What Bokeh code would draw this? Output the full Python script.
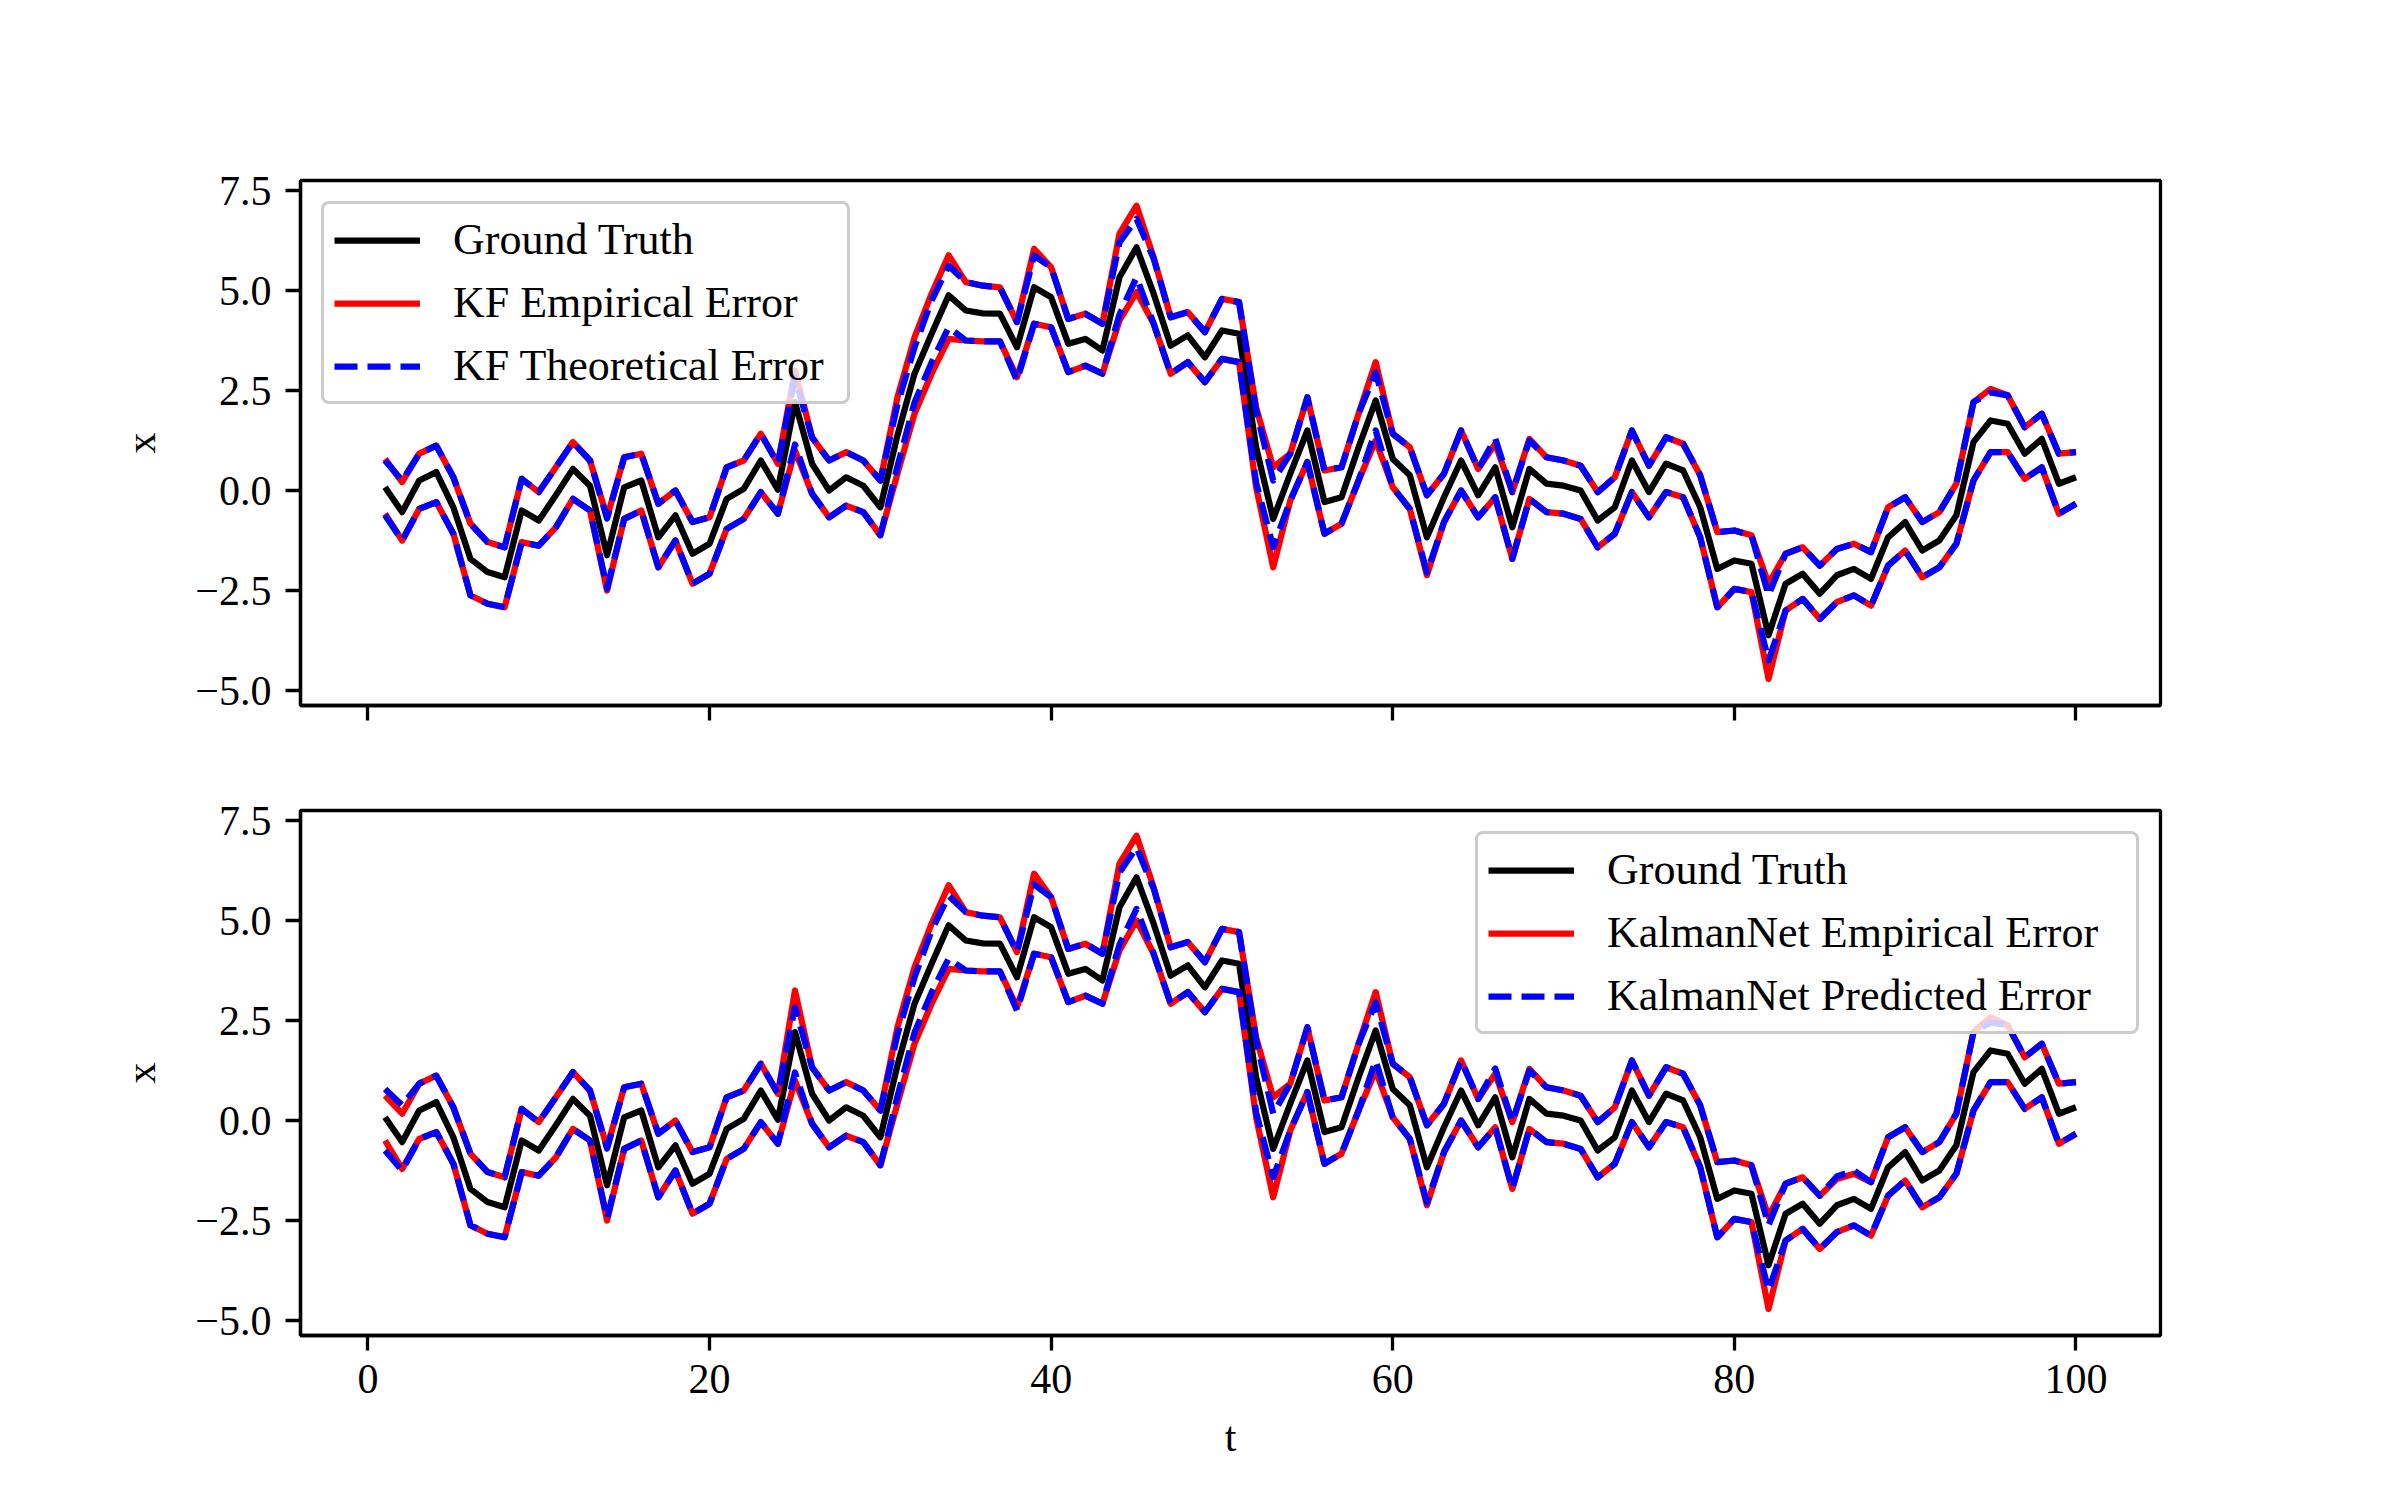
from bokeh.plotting import figure
from bokeh.models import Range1d, FixedTicker, Legend, LegendItem
from bokeh.layouts import column
from bokeh.embed import file_html
from bokeh.resources import INLINE

# ---------------- data ----------------
t = list(range(1, 101))

truth = [0.08, -0.54, 0.25, 0.46, -0.42, -1.71, -2.04, -2.17, -0.50, -0.75,
         -0.12, 0.54, 0.12, -1.62, 0.08, 0.25, -1.17, -0.62, -1.58, -1.33,
         -0.21, 0.04, 0.75, 0.02, 2.21, 0.67, 0.00, 0.33, 0.12, -0.42,
         1.38, 2.92, 3.92, 4.88, 4.50, 4.43, 4.42, 3.58, 5.08, 4.83,
         3.67, 3.79, 3.50, 5.33, 6.08, 4.92, 3.62, 3.88, 3.33, 4.00,
         3.92, 1.08, -0.71, 0.42, 1.50, -0.29, -0.17, 1.08, 2.25, 0.79,
         0.38, -1.17, -0.17, 0.75, -0.12, 0.58, -0.92, 0.54, 0.17, 0.12,
         0.00, -0.75, -0.42, 0.75, -0.04, 0.67, 0.50, -0.42, -1.96, -1.75,
         -1.83, -3.62, -2.33, -2.08, -2.58, -2.12, -1.96, -2.21, -1.17, -0.79,
         -1.50, -1.25, -0.62, 1.21, 1.75, 1.67, 0.92, 1.29, 0.17, 0.33]

kf_emp_hi = [0.79, 0.21, 0.92, 1.12, 0.33, -0.83, -1.29, -1.42, 0.29, -0.04,
             0.58, 1.21, 0.75, -0.67, 0.83, 0.92, -0.33, 0.00, -0.79, -0.67,
             0.58, 0.75, 1.42, 0.67, 3.00, 1.33, 0.75, 0.96, 0.75, 0.25,
             2.33, 3.83, 4.92, 5.88, 5.21, 5.12, 5.08, 4.21, 6.04, 5.58,
             4.29, 4.42, 4.17, 6.42, 7.12, 5.83, 4.33, 4.46, 3.96, 4.79,
             4.71, 2.08, 0.58, 0.92, 2.33, 0.50, 0.58, 1.92, 3.21, 1.42,
             1.08, -0.12, 0.42, 1.50, 0.54, 1.17, -0.04, 1.29, 0.83, 0.75,
             0.62, -0.04, 0.33, 1.50, 0.62, 1.33, 1.17, 0.38, -1.04, -1.00,
             -1.12, -2.33, -1.58, -1.42, -1.88, -1.46, -1.33, -1.54, -0.42, -0.17,
             -0.79, -0.54, 0.17, 2.21, 2.54, 2.38, 1.58, 1.92, 0.92, 0.96]

kf_emp_lo = [-0.58, -1.25, -0.46, -0.29, -1.08, -2.62, -2.83, -2.92, -1.29, -1.38,
             -0.92, -0.21, -0.50, -2.50, -0.71, -0.50, -1.92, -1.25, -2.33, -2.08,
             -0.96, -0.71, -0.04, -0.58, 1.00, -0.08, -0.67, -0.38, -0.54, -1.12,
             0.42, 1.92, 2.92, 3.79, 3.75, 3.73, 3.73, 2.83, 4.17, 4.08,
             2.96, 3.12, 2.92, 4.25, 4.96, 4.17, 2.92, 3.21, 2.71, 3.29,
             3.21, 0.08, -1.92, -0.25, 0.71, -1.08, -0.83, 0.25, 1.25, 0.08,
             -0.46, -2.12, -0.79, 0.00, -0.67, -0.17, -1.71, -0.21, -0.54, -0.58,
             -0.71, -1.42, -1.08, -0.04, -0.67, -0.04, -0.17, -1.17, -2.92, -2.46,
             -2.54, -4.71, -3.00, -2.71, -3.21, -2.79, -2.62, -2.88, -1.88, -1.50,
             -2.17, -1.92, -1.33, 0.25, 0.96, 0.96, 0.29, 0.58, -0.58, -0.33]

kf_th_hi = [0.75, 0.25, 0.92, 1.12, 0.33, -0.83, -1.29, -1.42, 0.29, -0.04,
            0.58, 1.21, 0.75, -0.70, 0.83, 0.92, -0.33, 0.00, -0.79, -0.67,
            0.58, 0.75, 1.42, 0.67, 2.83, 1.33, 0.75, 0.96, 0.75, 0.25,
            2.15, 3.58, 4.75, 5.62, 5.21, 5.12, 5.08, 4.21, 5.87, 5.58,
            4.29, 4.42, 4.17, 6.20, 6.79, 5.80, 4.33, 4.46, 3.96, 4.79,
            4.71, 2.00, 0.25, 0.92, 2.33, 0.50, 0.58, 1.92, 2.95, 1.42,
            1.08, -0.12, 0.42, 1.50, 0.54, 1.30, -0.04, 1.25, 0.83, 0.75,
            0.62, -0.04, 0.33, 1.50, 0.62, 1.33, 1.17, 0.38, -1.04, -1.00,
            -1.12, -2.62, -1.58, -1.42, -1.88, -1.46, -1.33, -1.54, -0.42, -0.17,
            -0.79, -0.54, 0.17, 2.21, 2.45, 2.38, 1.58, 1.92, 0.92, 0.96]

kf_th_lo = [-0.62, -1.25, -0.46, -0.29, -1.08, -2.62, -2.83, -2.92, -1.29, -1.38,
            -0.92, -0.21, -0.50, -2.45, -0.71, -0.50, -1.92, -1.25, -2.33, -2.08,
            -0.96, -0.71, -0.04, -0.58, 1.15, -0.08, -0.67, -0.38, -0.54, -1.12,
            0.60, 2.20, 3.20, 4.08, 3.75, 3.73, 3.73, 2.75, 4.17, 4.08,
            2.96, 3.12, 2.92, 4.40, 5.33, 4.17, 2.92, 3.21, 2.71, 3.29,
            3.21, 0.20, -1.42, -0.25, 0.71, -1.08, -0.83, 0.25, 1.50, 0.08,
            -0.46, -2.05, -0.79, 0.00, -0.67, -0.17, -1.71, -0.21, -0.54, -0.58,
            -0.71, -1.42, -1.08, -0.04, -0.67, -0.04, -0.17, -1.17, -2.92, -2.46,
            -2.54, -4.25, -3.00, -2.71, -3.21, -2.79, -2.62, -2.88, -1.88, -1.50,
            -2.17, -1.92, -1.33, 0.25, 0.96, 0.96, 0.29, 0.58, -0.58, -0.33]

kn_emp_hi = [0.62, 0.17, 0.92, 1.12, 0.33, -0.83, -1.29, -1.42, 0.29, -0.04,
             0.58, 1.21, 0.75, -0.67, 0.83, 0.92, -0.33, 0.00, -0.79, -0.67,
             0.58, 0.75, 1.42, 0.67, 3.25, 1.33, 0.75, 0.96, 0.75, 0.25,
             2.33, 3.83, 4.92, 5.88, 5.21, 5.12, 5.08, 4.21, 6.17, 5.58,
             4.29, 4.42, 4.17, 6.42, 7.12, 5.83, 4.33, 4.46, 3.96, 4.79,
             4.71, 2.08, 0.58, 0.92, 2.33, 0.50, 0.58, 1.92, 3.21, 1.42,
             1.08, -0.12, 0.42, 1.50, 0.54, 1.17, -0.04, 1.29, 0.83, 0.75,
             0.62, -0.04, 0.33, 1.50, 0.62, 1.33, 1.17, 0.38, -1.04, -1.00,
             -1.12, -2.40, -1.58, -1.42, -1.88, -1.46, -1.33, -1.54, -0.42, -0.17,
             -0.79, -0.54, 0.17, 2.21, 2.58, 2.38, 1.58, 1.92, 0.92, 0.96]

kn_emp_lo = [-0.50, -1.21, -0.46, -0.29, -1.08, -2.62, -2.83, -2.92, -1.29, -1.38,
             -0.92, -0.21, -0.50, -2.50, -0.71, -0.50, -1.92, -1.25, -2.33, -2.08,
             -0.96, -0.71, -0.04, -0.58, 1.00, -0.08, -0.67, -0.38, -0.54, -1.12,
             0.42, 1.92, 2.92, 3.79, 3.75, 3.73, 3.73, 2.83, 4.17, 4.08,
             2.96, 3.12, 2.92, 4.25, 5.00, 4.17, 2.92, 3.21, 2.71, 3.29,
             3.21, 0.08, -1.92, -0.25, 0.71, -1.08, -0.83, 0.25, 1.25, 0.08,
             -0.46, -2.12, -0.79, 0.00, -0.67, -0.17, -1.71, -0.21, -0.54, -0.58,
             -0.71, -1.42, -1.08, -0.04, -0.67, -0.04, -0.17, -1.17, -2.92, -2.46,
             -2.54, -4.71, -3.00, -2.71, -3.21, -2.79, -2.62, -2.88, -1.88, -1.50,
             -2.17, -1.92, -1.33, 0.25, 0.96, 0.96, 0.29, 0.58, -0.58, -0.33]

kn_pr_hi = [0.79, 0.38, 0.92, 1.12, 0.33, -0.83, -1.29, -1.42, 0.29, -0.04,
            0.58, 1.21, 0.75, -0.70, 0.83, 0.92, -0.33, 0.00, -0.79, -0.67,
            0.58, 0.75, 1.42, 0.67, 2.83, 1.33, 0.75, 0.96, 0.75, 0.25,
            2.15, 3.58, 4.75, 5.62, 5.21, 5.12, 5.08, 4.21, 5.90, 5.58,
            4.29, 4.42, 4.17, 6.20, 6.83, 5.80, 4.33, 4.46, 3.96, 4.79,
            4.71, 2.00, 0.17, 0.92, 2.33, 0.50, 0.58, 1.92, 2.95, 1.42,
            1.08, -0.12, 0.42, 1.50, 0.54, 1.30, -0.04, 1.25, 0.83, 0.75,
            0.62, -0.04, 0.33, 1.50, 0.62, 1.33, 1.17, 0.38, -1.04, -1.00,
            -1.12, -2.62, -1.58, -1.42, -1.88, -1.40, -1.25, -1.54, -0.42, -0.17,
            -0.79, -0.54, 0.17, 2.21, 2.45, 2.38, 1.58, 1.92, 0.92, 0.96]

kn_pr_lo = [-0.75, -1.25, -0.46, -0.29, -1.08, -2.62, -2.83, -2.92, -1.29, -1.38,
            -0.92, -0.21, -0.50, -2.45, -0.71, -0.50, -1.92, -1.25, -2.33, -2.08,
            -0.96, -0.71, -0.04, -0.58, 1.20, -0.08, -0.67, -0.38, -0.54, -1.12,
            0.60, 2.20, 3.20, 4.05, 3.75, 3.73, 3.73, 2.75, 4.17, 4.08,
            2.96, 3.12, 2.92, 4.40, 5.29, 4.17, 2.92, 3.21, 2.71, 3.29,
            3.21, 0.20, -1.42, -0.25, 0.71, -1.08, -0.83, 0.25, 1.50, 0.08,
            -0.46, -2.05, -0.79, 0.00, -0.67, -0.17, -1.71, -0.21, -0.54, -0.58,
            -0.71, -1.42, -1.08, -0.04, -0.67, -0.04, -0.17, -1.17, -2.92, -2.46,
            -2.54, -4.25, -3.00, -2.71, -3.21, -2.79, -2.62, -2.88, -1.88, -1.50,
            -2.17, -1.92, -1.33, 0.25, 0.96, 0.96, 0.29, 0.58, -0.58, -0.33]

x_ticks = [0, 20, 40, 60, 80, 100]
x_tick_labels = ["0", "20", "40", "60", "80", "100"]
y_ticks = [-5, -2.5, 0, 2.5, 5, 7.5]
y_tick_labels = ["\u22125.0", "\u22122.5", "0.0", "2.5", "5.0", "7.5"]

top_labels = ["Ground Truth", "KF Empirical Error", "KF Theoretical Error"]
bottom_labels = ["Ground Truth", "KalmanNet Empirical Error", "KalmanNet Predicted Error"]

# ---------------- style ----------------
FONT = "Liberation Serif"
FS = "42px"
LEG_FS = "44px"
LW = 6.25
SPINE = 3.3


def make_panel(height, b_top, b_bottom, show_xlabels, legend_loc, labels,
               r_hi, r_lo, b_hi, b_lo, leg_label_w):
    p = figure(width=2384, height=height,
               x_range=Range1d(-3.95, 104.95), y_range=Range1d(-5.375, 7.75),
               output_backend="svg", toolbar_location=None, tools="",
               min_border_left=300, min_border_right=224,
               min_border_top=b_top, min_border_bottom=b_bottom)
    p.grid.visible = False
    p.background_fill_color = "white"
    p.border_fill_color = "white"
    p.outline_line_color = "black"
    p.outline_line_width = SPINE
    p.outline_line_alpha = 1.0

    for ax in (p.xaxis[0], p.yaxis[0]):
        ax.axis_line_color = "black"
        ax.axis_line_width = SPINE
        ax.major_tick_line_color = "black"
        ax.major_tick_line_width = SPINE
        ax.major_tick_out = 15
        ax.major_tick_in = 0
        ax.minor_tick_out = 0
        ax.minor_tick_in = 0
        ax.major_label_text_font = FONT
        ax.major_label_text_font_size = FS
        ax.major_label_text_color = "black"
        ax.major_label_standoff = 14
        ax.axis_label_text_font = FONT
        ax.axis_label_text_font_size = FS
        ax.axis_label_text_font_style = "normal"
        ax.axis_label_text_color = "black"

    p.xaxis.ticker = FixedTicker(ticks=x_ticks)
    p.yaxis.ticker = FixedTicker(ticks=y_ticks)
    p.yaxis.major_label_overrides = dict(zip(y_ticks, y_tick_labels))
    p.yaxis.axis_label = "x"
    p.yaxis.axis_label_standoff = 28
    if show_xlabels:
        p.xaxis.major_label_overrides = dict(zip(x_ticks, x_tick_labels))
        p.xaxis.axis_label = "t"
        p.xaxis.axis_label_standoff = 18
    else:
        # shared x axis: ticks only, no labels
        p.xaxis.major_label_overrides = {v: "" for v in x_ticks}

    rt = p.line(t, truth, line_color="black", line_width=LW, line_join="round")
    rr1 = p.line(t, r_hi, line_color="#ff0000", line_width=LW, line_join="round")
    p.line(t, r_lo, line_color="#ff0000", line_width=LW, line_join="round")
    rb1 = p.line(t, b_hi, line_color="#0000ff", line_width=LW, line_dash="23 10",
                 line_join="round")
    p.line(t, b_lo, line_color="#0000ff", line_width=LW, line_dash="23 10",
           line_join="round")

    items = [LegendItem(label=labels[0], renderers=[rt]),
             LegendItem(label=labels[1], renderers=[rr1]),
             LegendItem(label=labels[2], renderers=[rb1])]
    leg = Legend(items=items, location=legend_loc, margin=21, padding=10,
                 spacing=12, glyph_width=86, glyph_height=44, label_height=44,
                 label_width=leg_label_w,
                 label_standoff=33, label_text_font=FONT, label_text_font_size=LEG_FS,
                 label_text_color="black",
                 border_line_color="#cccccc", border_line_width=SPINE,
                 border_line_alpha=1.0, background_fill_color="white",
                 background_fill_alpha=0.8)
    if hasattr(leg, "border_radius"):
        try:
            leg.border_radius = 8
        except Exception:
            pass
    p.add_layout(leg)
    return p


p1 = make_panel(758, 180, 53, False, "top_left", top_labels,
                kf_emp_hi, kf_emp_lo, kf_th_hi, kf_th_lo, 384)
p2 = make_panel(726, 52, 149, True, "top_right", bottom_labels,
                kn_emp_hi, kn_emp_lo, kn_pr_hi, kn_pr_lo, 519)

layout = column(p1, p2, spacing=0)
open("out.html", "w").write(file_html(layout, INLINE))
